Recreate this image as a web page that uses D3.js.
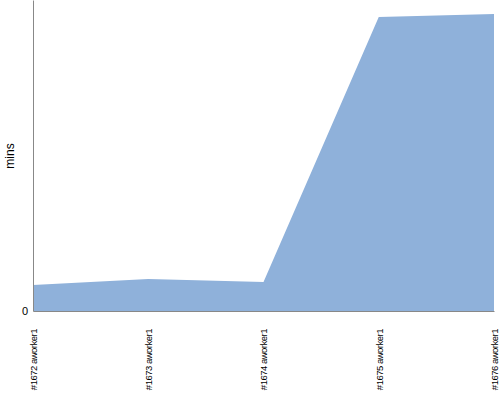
<!DOCTYPE html>
<html>
<head>
<meta charset="utf-8">
<script src="https://cdn.jsdelivr.net/npm/d3@7"></script>
<style>
  body { margin: 0; background: #fff; }
  svg { display: block; font-family: "Liberation Sans", Arial, sans-serif; }
  .axis path, .axis line { stroke: #888; }
  .axis text { fill: #000; }
</style>
</head>
<body>
<svg width="500" height="400"></svg>
<script>
// Chart data
const JOBS = ["#1672 aworker1", "#1673 aworker1", "#1674 aworker1", "#1675 aworker1", "#1676 aworker1"];
const MINS = [8.4, 10.3, 9.3, 94.5, 95.5];
const Y_TICKS = [0];

// Chart constants
const svg = d3.select("svg");
const margin = { top: 0, right: 6, bottom: 89, left: 33 };
const width = 500 - margin.left - margin.right;
const height = 400 - margin.top - margin.bottom;

const g = svg.append("g").attr("transform", `translate(${margin.left},${margin.top})`);

const x = d3.scalePoint().domain(JOBS).range([0, width]);
const y = d3.scaleLinear().domain([0, 100]).range([height, 0]);

const rows = JOBS.map((job, i) => ({ job: job, value: MINS[i] }));

// Area
const area = d3.area()
    .x((d) => x(d.job))
    .y0(height)
    .y1((d) => y(d.value));

g.append("path")
    .datum(rows)
    .attr("fill", "#8fb1da")
    .attr("d", area);

// X axis
const xAxis = g.append("g")
    .attr("class", "axis")
    .attr("transform", `translate(0,${height})`)
    .call(d3.axisBottom(x).tickSize(0).tickPadding(0));

xAxis.selectAll("text")
    .attr("transform", "rotate(-90)")
    .attr("text-anchor", "end")
    .attr("x", -18)
    .attr("y", 0)
    .attr("dy", "0.35em")
    .style("font-size", "9.5px")
    .style("letter-spacing", "-0.5px");

// Y axis
g.append("g")
    .attr("class", "axis")
    .call(d3.axisLeft(y).tickValues(Y_TICKS).tickSize(0).tickPadding(5))
    .selectAll("text")
    .style("font-size", "11px");

// Y label
svg.append("text")
    .attr("transform", "rotate(-90)")
    .attr("x", -156)
    .attr("y", 14)
    .attr("text-anchor", "middle")
    .style("font-size", "12px")
    .text("mins");
</script>
</body>
</html>
